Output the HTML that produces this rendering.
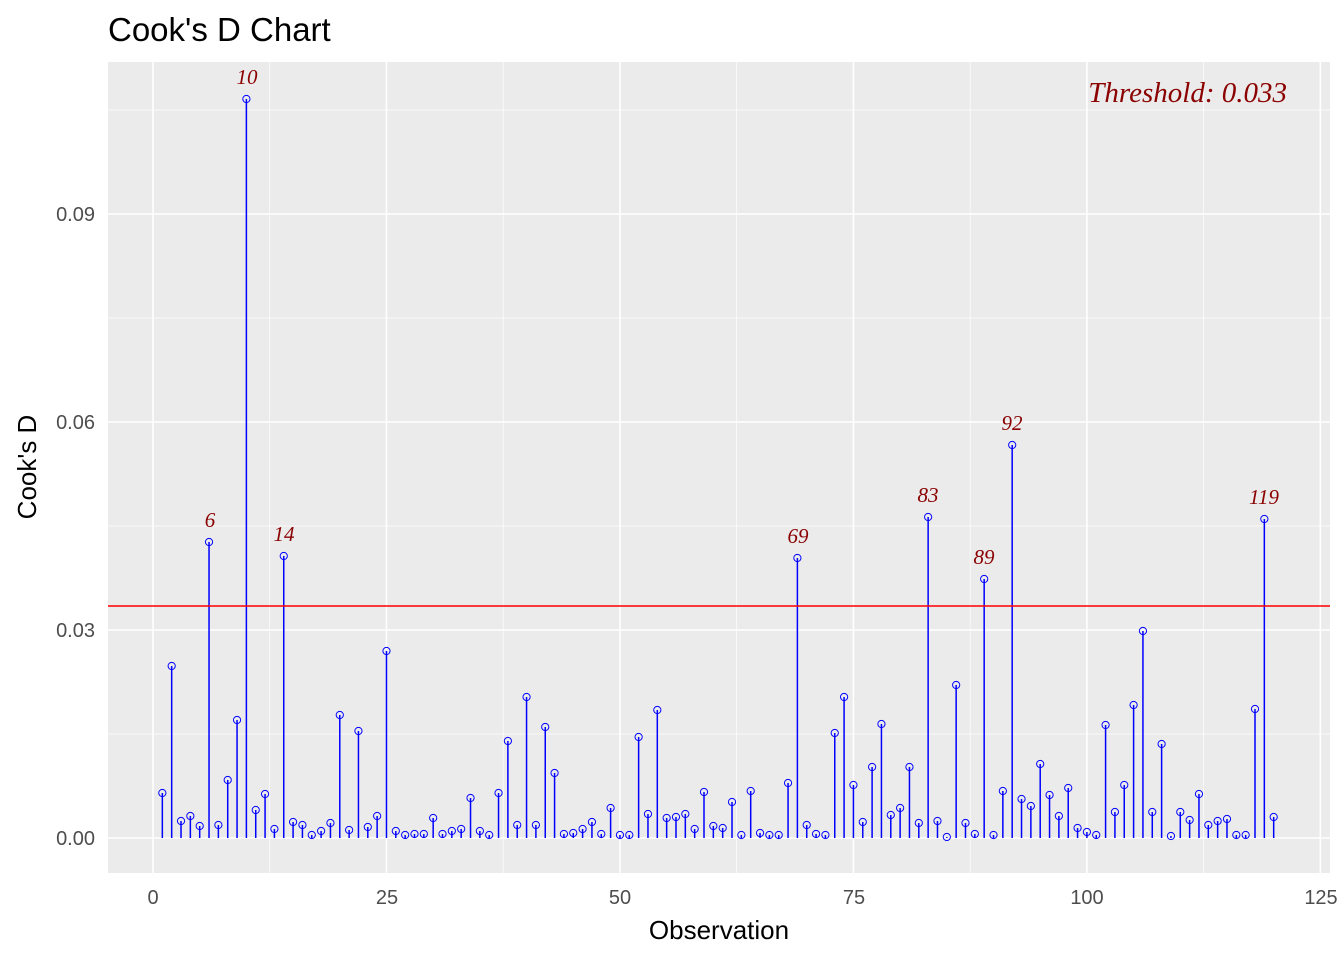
<!DOCTYPE html>
<html><head><meta charset="utf-8"><style>
body{margin:0;background:#fff}
svg{display:block}
.t{font-family:"Liberation Sans",sans-serif}
.lab{font-family:"Liberation Serif",serif;font-style:italic;fill:#8b0000;font-size:21px;text-anchor:middle}
.tk{font-family:"Liberation Sans",sans-serif;fill:#4d4d4d;font-size:20px}
</style></head><body>
<svg id="s" width="1344" height="960" xmlns="http://www.w3.org/2000/svg">
<rect x="108" y="62" width="1222" height="811" fill="#ebebeb"/>
<g id="grid"></g>
<g id="data"></g>
<line x1="108" x2="1330" y1="606" y2="606" stroke="#ff0000" stroke-width="1.6"/>
<text class="t" x="108" y="41" font-size="33">Cook's D Chart</text>
<text x="1287" y="102" font-family="Liberation Serif,serif" font-style="italic" font-size="29" fill="#8b0000" text-anchor="end">Threshold: 0.033</text>
<text class="tk" x="95" y="845" text-anchor="end">0.00</text>
<text class="tk" x="95" y="637" text-anchor="end">0.03</text>
<text class="tk" x="95" y="429" text-anchor="end">0.06</text>
<text class="tk" x="95" y="221" text-anchor="end">0.09</text>
<text class="tk" x="153" y="904" text-anchor="middle">0</text>
<text class="tk" x="387" y="904" text-anchor="middle">25</text>
<text class="tk" x="620" y="904" text-anchor="middle">50</text>
<text class="tk" x="854" y="904" text-anchor="middle">75</text>
<text class="tk" x="1087" y="904" text-anchor="middle">100</text>
<text class="tk" x="1321" y="904" text-anchor="middle">125</text>
<text class="t" x="719" y="939" font-size="26" text-anchor="middle">Observation</text>
<text class="t" transform="translate(36,467) rotate(-90)" font-size="26" text-anchor="middle">Cook's D</text>
<text class="lab" x="247" y="84">10</text>
<text class="lab" x="210" y="527">6</text>
<text class="lab" x="284" y="541">14</text>
<text class="lab" x="798" y="543">69</text>
<text class="lab" x="928" y="502">83</text>
<text class="lab" x="984" y="564">89</text>
<text class="lab" x="1012" y="430">92</text>
<text class="lab" x="1264" y="504">119</text>
</svg>
<script>
var ys=[793,666,821,816,826,542,825,780,720,99,810,794,829,556,822,825,835,831,823,715,830,731,827,816,651,831,835,834,834,818,834,831,829,798,831,835,793,741,825,697,825,727,773,834,833,829,822,834,808,835,835,737,814,710,818,817,814,829,792,826,828,802,835,791,833,835,835,783,558,825,834,835,733,697,785,822,767,724,815,808,767,823,517,821,837,685,823,834,579,835,791,445,799,806,764,795,816,788,828,832,835,725,812,785,705,631,812,744,836,812,820,794,825,821,819,835,835,709,519,817];
var g='',d='';
function X(n){return 153+9.339*n}
[0,25,50,75,100,125].forEach(function(v){g+='<line x1="'+X(v)+'" x2="'+X(v)+'" y1="62" y2="873" stroke="#fff" stroke-width="1.6"/>'});
[12.5,37.5,62.5,87.5,112.5].forEach(function(v){g+='<line x1="'+X(v)+'" x2="'+X(v)+'" y1="62" y2="873" stroke="#fff" stroke-width="0.7"/>'});
[838,630,422,214].forEach(function(y){g+='<line x1="108" x2="1330" y1="'+y+'" y2="'+y+'" stroke="#fff" stroke-width="1.6"/>'});
[734,526,318,110].forEach(function(y){g+='<line x1="108" x2="1330" y1="'+y+'" y2="'+y+'" stroke="#fff" stroke-width="0.7"/>'});
ys.forEach(function(y,i){var x=X(i+1);d+='<line x1="'+x+'" x2="'+x+'" y1="838" y2="'+y+'" stroke="#0000ff" stroke-width="1.5"/><circle cx="'+x+'" cy="'+y+'" r="3.6" fill="none" stroke="#0000ff" stroke-width="1"/>'});
document.getElementById('grid').innerHTML=g;document.getElementById('data').innerHTML=d;
</script>
</body></html>
